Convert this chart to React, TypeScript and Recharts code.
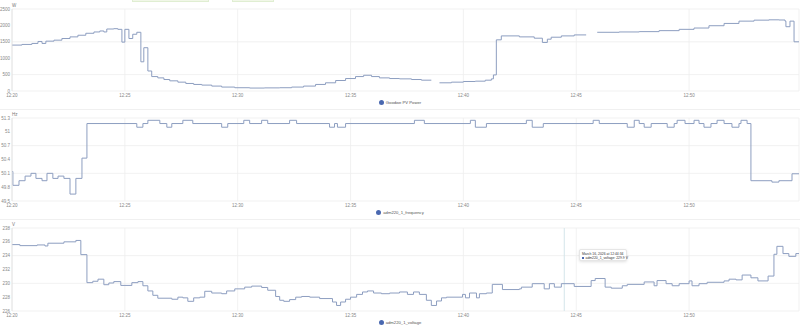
/**
 * Three stacked step charts: PV power, grid frequency, grid voltage
 */

import { CartesianGrid, Line, LineChart, ReferenceLine, XAxis, YAxis } from "recharts";

// minutes after 12:20
const timeTicks = [0, 5, 10, 15, 20, 25, 30];
const X_END = 34.83;

const powerMin = [
	0, 0.44, 0.88, 1.15, 1.33, 1.5, 1.86, 2.21, 2.57, 2.92, 3.27, 3.63, 3.89, 4.07, 4.2, 4.51, 4.69, 4.87,
	5.0, 5.18, 5.35, 5.53, 5.71, 5.84, 6.02, 6.19, 6.46, 6.73, 6.99, 7.35, 7.7, 8.05, 8.41, 8.85, 9.29, 9.87,
	10.53, 11.19, 11.86, 12.39, 12.92, 13.45, 13.89, 14.34, 14.78, 15.22, 15.58, 15.93, 16.28, 16.73, 17.17,
	17.7, 18.14, 18.58, 18.6, 18.94, 19.47, 20.0, 20.53, 20.97, 21.24, 21.33, 21.46, 21.68, 22.48, 23.14,
	23.5, 23.72, 23.89, 24.34, 24.91, 25.44, 25.46, 25.93, 26.9, 27.79, 28.67, 29.56, 30.22, 30.88, 31.55,
	32.21, 32.88, 33.54, 33.98, 34.25, 34.29, 34.47, 34.65, 34.87,
];
const powerW = [
	1400, 1420, 1450, 1510, 1450, 1520, 1550, 1600, 1650, 1700, 1760, 1800, 1830, 1800, 1890, 1900, 1880, 1490,
	1880, 1600, 1730, 1790, 890, 1320, 610, 440, 400, 350, 310, 270, 230, 200, 180, 150, 120, 100,
	90, 95, 100, 120, 150, 200, 250, 320, 380, 440, 480, 440, 400, 380, 370,
	350, 330, 330, null, 250, 270, 290, 300, 330, 370, 490, 1560, 1680, 1650, 1610,
	1480, 1580, 1640, 1680, 1710, 1710, null, 1790, 1800, 1810, 1840, 1880, 1920, 1990, 2060,
	2130, 2160, 2170, 2165, 2130, 1960, 2130, 1500, 1500,
];
const powerTicks = [0, 500, 1000, 1500, 2000, 2500];

const freqMin = [
	0, 0.04, 0.31, 0.58, 0.84, 1.06, 1.33, 1.55, 1.81, 2.04, 2.3, 2.57, 2.83, 3.1, 3.32, 5.53, 5.8, 6.02,
	6.55, 6.86, 7.08, 7.57, 8.01, 9.29, 9.56, 10.27, 10.53, 11.06, 11.33, 12.3, 12.61, 14.07, 14.29, 14.42,
	14.78, 17.83, 18.27, 20.31, 20.53, 21.02, 22.79, 23.05, 23.54, 25.75, 26.02, 27.26, 27.57, 27.79, 28.01,
	28.32, 29.03, 29.34, 29.47, 29.82, 30.22, 30.44, 30.66, 30.97, 31.24, 31.55, 31.9, 32.21, 32.3, 32.57,
	32.74, 33.67, 33.98, 34.56, 34.87,
];
const freqHz = [
	50.14, 49.84, 49.94, 50.04, 50.1, 49.99, 49.94, 50.1, 49.99, 50.04, 49.99, 49.65, 49.99, 50.43, 51.18, 51.1, 51.18, 51.25,
	51.18, 51.1, 51.18, 51.25, 51.18, 51.1, 51.18, 51.25, 51.18, 51.25, 51.18, 51.25, 51.18, 51.1, 51.18, 51.1,
	51.18, 51.25, 51.18, 51.25, 51.1, 51.18, 51.25, 51.1, 51.18, 51.25, 51.18, 51.1, 51.25, 51.18, 51.1,
	51.18, 51.1, 51.18, 51.25, 51.18, 51.25, 51.18, 51.1, 51.18, 51.25, 51.18, 51.1, 51.18, 51.25, 51.18,
	49.94, 49.91, 49.94, 50.09, 50.09,
];
const freqTicks = [49.5, 49.8, 50.1, 50.4, 50.7, 51, 51.3];

const voltMin = [
	0, 0.35, 1.11, 1.46, 1.59, 2.3, 2.83, 3.05, 3.32, 3.58, 3.81, 4.07, 4.29, 4.51, 4.82, 5.31, 5.58, 5.8,
	6.02, 6.24, 6.46, 7.08, 7.35, 7.57, 7.79, 8.05, 8.32, 8.54, 8.85, 9.29, 9.51, 9.87, 10.31, 10.62, 11.06,
	11.33, 11.68, 11.86, 12.04, 12.3, 12.57, 12.83, 13.19, 13.63, 14.2, 14.38, 14.56, 14.78, 15.0, 15.27,
	15.53, 15.75, 16.02, 16.37, 16.73, 17.17, 17.52, 17.79, 18.05, 18.36, 18.58, 18.81, 19.03, 19.25, 19.96,
	20.09, 20.27, 20.58, 20.71, 21.02, 21.28, 21.73, 22.48, 22.57, 23.05, 23.58, 23.81, 24.03, 24.34, 24.91,
	25.66, 25.84, 26.28, 26.55, 27.04, 27.26, 28.01, 28.45, 28.58, 28.98, 29.25, 29.56, 30.0, 30.13, 30.44,
	30.8, 31.55, 31.77, 32.08, 32.35, 32.74, 33.05, 33.5, 33.76, 33.89, 34.16, 34.42, 34.73, 34.87,
];
const voltV = [
	235.6, 235.45, 235.55, 235.4, 235.8, 236.0, 236.2, 234.15, 230.1, 230.3, 230.6, 229.8, 230.05, 230.25, 229.7, 230.1, 230.25, 229.65,
	228.9, 228.27, 227.85, 227.7, 228.0, 227.9, 227.4, 227.9, 228.0, 228.85, 228.6, 228.5, 228.9, 229.2, 229.45, 229.6, 229.4,
	229.0, 228.1, 227.55, 227.4, 227.65, 228.0, 228.1, 228.0, 227.8, 227.3, 226.8, 227.3, 227.7, 228.0, 228.4,
	228.75, 228.9, 228.6, 228.5, 228.6, 228.75, 228.4, 228.75, 228.4, 227.55, 226.8, 227.45, 227.9, 228.0, 228.4,
	227.9, 228.6, 227.9, 228.5, 228.6, 229.85, 229.1, 229.2, 229.45, 229.95, 229.2, 229.95, 229.45, 229.95, 229.55,
	230.4, 230.7, 229.45, 229.3, 229.65, 229.85, 230.2, 229.65, 230.4, 229.95, 229.65, 229.95, 230.35, 229.65, 229.95,
	230.15, 230.35, 230.6, 230.5, 231.2, 230.8, 230.35, 231.05, 234.2, 235.35, 234.3, 233.9, 234.3, 234.3,
];
const voltTicks = [226, 228, 230, 232, 234, 236, 238];

const cursorMin = 24.47;
const tooltipDate = "March 16, 2026 at 12:44:34";
const tooltipValue = "adm220_1_voltage: 229.9 V";

const FONT = "'Liberation Sans', Arial, sans-serif";
const LINE = "#8d9ec0";
const GRID = "#eeeeee";

function fmtTime(m: number) {
	const total = 12 * 60 + 20 + m;
	const h = Math.floor(total / 60);
	const mm = Math.round(total % 60);
	return `${h}:${String(mm).padStart(2, "0")}`;
}

function zip(ts: number[], vs: (number | null)[]) {
	return ts.map((t, i) => ({ t, v: vs[i] }));
}

interface PanelProps {
	top: number;
	height: number;
	marginTop: number;
	xHeight: number;
	data: { t: number; v: number | null }[];
	ticks: number[];
	unit: string;
	legend: string;
	legendTop: number;
	cursor?: number;
}

function Panel({ top, height, marginTop, xHeight, data, ticks, unit, legend, legendTop, cursor }: PanelProps) {
	const tick = { fontSize: 4.5, fill: "#888", fontFamily: FONT };
	return (
		<div style={{ position: "absolute", left: 0, top, width: 800, height }}>
			<LineChart width={800} height={height} data={data} margin={{ top: marginTop, right: 1, bottom: 0, left: 0 }}>
				<CartesianGrid stroke={GRID} strokeWidth={0.8} />
				<XAxis
					dataKey="t"
					type="number"
					domain={[0, X_END]}
					ticks={timeTicks}
					tickFormatter={fmtTime}
					height={xHeight}
					tick={tick}
					tickLine={false}
					axisLine={false}
					tickSize={0}
					tickMargin={2.5}
				/>
				<YAxis
					type="number"
					domain={[ticks[0], ticks[ticks.length - 1]]}
					ticks={ticks}
					width={12}
					tick={tick}
					tickLine={false}
					tickSize={0}
					tickMargin={2}
					axisLine={{ stroke: "#e0e0e0", strokeWidth: 0.8 }}
					tickFormatter={(v: number) => String(Math.round(v * 10) / 10)}
				/>
				{cursor !== undefined && <ReferenceLine x={cursor} stroke="#d4e6ea" strokeWidth={1} />}
				<Line
					type="stepAfter"
					dataKey="v"
					stroke={LINE}
					strokeWidth={1}
					dot={false}
					isAnimationActive={false}
				/>
			</LineChart>
			<div
				style={{
					position: "absolute",
					left: 12,
					top: marginTop - 6,
					fontSize: 4.5,
					color: "#777",
					fontFamily: FONT,
				}}
			>
				{unit}
			</div>
			<div
				style={{
					position: "absolute",
					left: 0,
					width: 800,
					top: legendTop,
					display: "flex",
					justifyContent: "center",
					alignItems: "center",
					gap: 2,
					fontSize: 4.2,
					color: "#555",
					fontFamily: FONT,
				}}
			>
				<span
					style={{ width: 5, height: 5, borderRadius: "50%", background: "#4a68b0", display: "inline-block" }}
				/>
				<span>{legend}</span>
			</div>
		</div>
	);
}

export default function App() {
	return (
		<div style={{ position: "fixed", left: 0, top: 0, width: 800, height: 333, background: "#fff", overflow: "hidden" }}>
			<div style={{ position: "absolute", left: 132, top: -3, width: 75, height: 3, background: "#f1f7e8", border: "1px solid #e0eed2" }} />
			<div style={{ position: "absolute", left: 232, top: -3, width: 40, height: 3, background: "#f1f7e8", border: "1px solid #e0eed2" }} />
			<Panel
				top={0}
				height={110}
				marginTop={9}
				xHeight={19}
				data={zip(powerMin, powerW)}
				ticks={powerTicks}
				unit="W"
				legend="Goodwe PV Power"
				legendTop={100}
			/>
			<div style={{ position: "absolute", left: 0, top: 109, width: 800, height: 1, background: "#f0f0f0" }} />
			<Panel
				top={110}
				height={110}
				marginTop={8}
				xHeight={19}
				data={zip(freqMin, freqHz)}
				ticks={freqTicks}
				unit="Hz"
				legend="adm220_1_frequency"
				legendTop={100}
			/>
			<div style={{ position: "absolute", left: 0, top: 219, width: 800, height: 1, background: "#f0f0f0" }} />
			<Panel
				top={220}
				height={113}
				marginTop={8}
				xHeight={22}
				data={zip(voltMin, voltV)}
				ticks={voltTicks}
				unit="V"
				legend="adm220_1_voltage"
				legendTop={100}
				cursor={cursorMin}
			/>
			<div
				style={{
					position: "absolute",
					left: 579,
					top: 249,
					width: 48,
					height: 12,
					background: "#fff",
					border: "1px solid #e6e6e6",
					borderRadius: 2,
					boxShadow: "0 1px 3px rgba(0,0,0,0.12)",
					fontFamily: FONT,
					fontSize: 3.4,
					color: "#333",
					padding: "1.5px 2px",
					boxSizing: "border-box",
					lineHeight: "4.5px",
					whiteSpace: "nowrap",
				}}
			>
				<div>{tooltipDate}</div>
				<div>
					<span style={{ display: "inline-block", width: 2, height: 2, background: "#4a68b0", marginRight: 1.5 }} />
					{tooltipValue}
				</div>
			</div>
		</div>
	);
}
